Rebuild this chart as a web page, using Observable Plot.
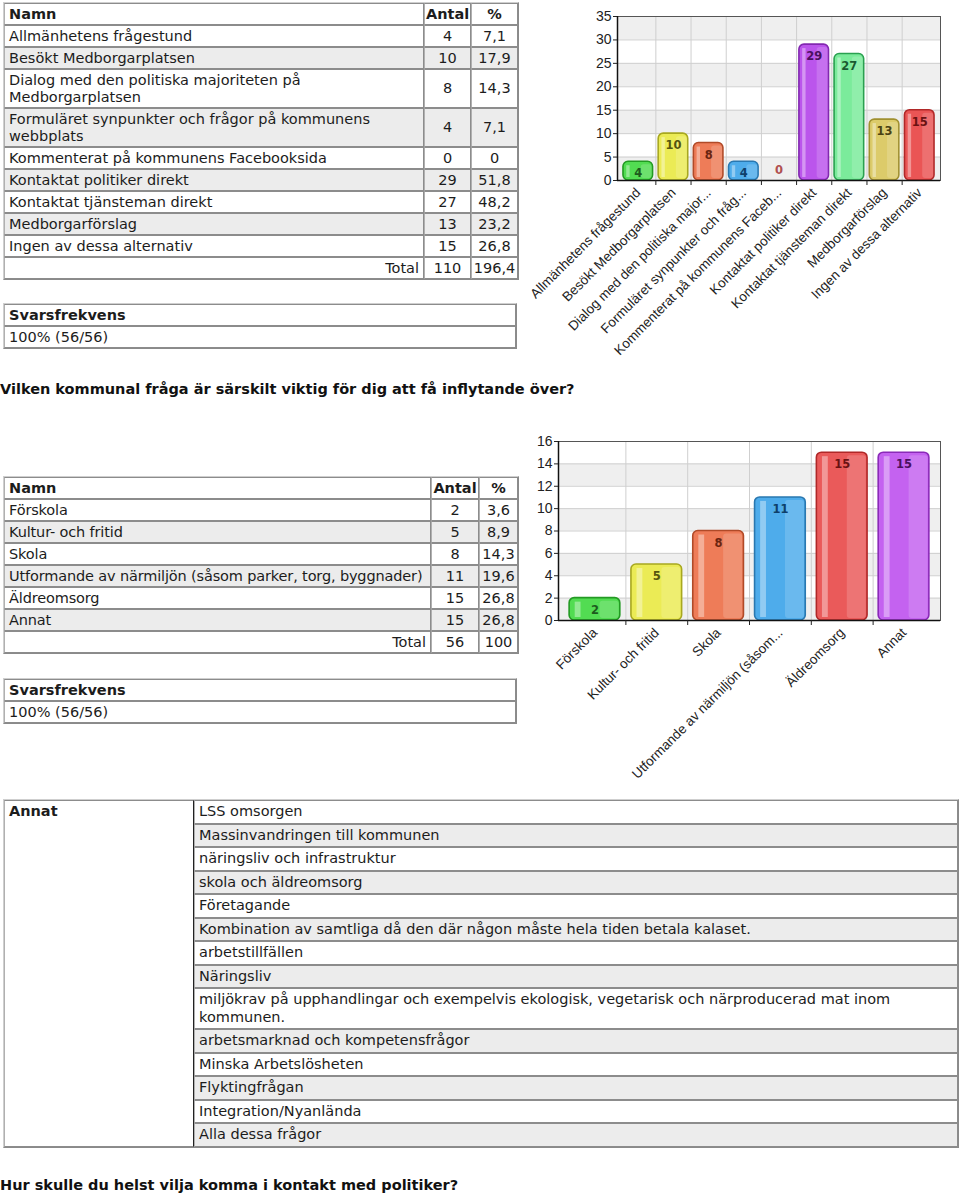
<!DOCTYPE html>
<html><head><meta charset="utf-8">
<script src="https://cdn.jsdelivr.net/npm/d3@7"></script>
<script src="https://cdn.jsdelivr.net/npm/@observablehq/plot@0.6"></script>
<style>
body{margin:0;background:#fff;font-family:"DejaVu Sans",Verdana,sans-serif;font-size:14.5px;color:#1c1c1c;width:960px;height:1196px;position:relative;overflow:hidden;}
.blk{position:absolute;}
table.t{border-collapse:separate;border-spacing:0;table-layout:fixed;border:1px solid;border-color:#cfcfcf #8a8a8a #8a8a8a #cfcfcf;}
table.t td{padding:1.5px 4px;line-height:17px;border:1px solid #8c8c8c;border-left-color:#b0b0b0;white-space:pre;overflow:hidden;}
table.t td.n{text-align:center;padding:1.5px 1px;}
table.t td.r{text-align:right;}
table.t tr.g td{background:#ececec;}
table.q2 td.nm{letter-spacing:-0.15px;}
.b{font-weight:bold;}
.title{font-weight:bold;font-size:14.5px;left:0;white-space:nowrap;color:#111;}
table.an td{line-height:17.5px;padding:2px 4px;}
table.an td.lead{vertical-align:top;border-right:1px solid #222;}
</style>
</head><body>
<div id="t1" class="blk" style="left:3px;top:2px"></div>
<div id="s1" class="blk" style="left:3px;top:303px"></div>
<div id="c1" class="blk" style="left:520px;top:0px"></div>
<div class="blk title" style="top:381px">Vilken kommunal fråga är särskilt viktig för dig att få inflytande över?</div>
<div id="t2" class="blk" style="left:3px;top:476px"></div>
<div id="s2" class="blk" style="left:3px;top:678px"></div>
<div id="c2" class="blk" style="left:520px;top:425px"></div>
<div id="t3" class="blk" style="left:3px;top:799px"></div>
<div class="blk title" style="top:1177px">Hur skulle du helst vilja komma i kontakt med politiker?</div>
<script>
// ---------- DATA ----------
const q1Names = ["Allmänhetens frågestund","Besökt Medborgarplatsen","Dialog med den politiska majoriteten på\nMedborgarplatsen","Formuläret synpunkter och frågor på kommunens\nwebbplats","Kommenterat på kommunens Facebooksida","Kontaktat politiker direkt","Kontaktat tjänsteman direkt","Medborgarförslag","Ingen av dessa alternativ"];
const q1AxisLabels = ["Allmänhetens frågestund","Besökt Medborgarplatsen","Dialog med den politiska major...","Formuläret synpunkter och fråg...","Kommenterat på kommunens Faceb...","Kontaktat politiker direkt","Kontaktat tjänsteman direkt","Medborgarförslag","Ingen av dessa alternativ"];
const q1Counts = [4,10,8,4,0,29,27,13,15];
const q1Pct = ["7,1","17,9","14,3","7,1","0","51,8","48,2","23,2","26,8"];
const q1Total = ["110","196,4"];
const q1YTicks = [0,5,10,15,20,25,30,35];

const q2Names = ["Förskola","Kultur- och fritid","Skola","Utformande av närmiljön (såsom parker, torg, byggnader)","Äldreomsorg","Annat"];
const q2AxisLabels = ["Förskola","Kultur- och fritid","Skola","Utformande av närmiljön (såsom...","Äldreomsorg","Annat"];
const q2Counts = [2,5,8,11,15,15];
const q2Pct = ["3,6","8,9","14,3","19,6","26,8","26,8"];
const q2Total = ["56","100"];
const q2YTicks = [0,2,4,6,8,10,12,14,16];

const responseRate = "100% (56/56)";
const annatAnswers = ["LSS omsorgen","Massinvandringen till kommunen","näringsliv och infrastruktur","skola och äldreomsorg","Företagande","Kombination av samtliga då den där någon måste hela tiden betala kalaset.","arbetstillfällen","Näringsliv","miljökrav på upphandlingar och exempelvis ekologisk, vegetarisk och närproducerad mat inom\nkommunen.","arbetsmarknad och kompetensfrågor","Minska Arbetslösheten","Flyktingfrågan","Integration/Nyanlända","Alla dessa frågor"];

// ---------- STYLES ----------
const pal1 = {
  fill:  ["#52dc52","#ebeb55","#ee7c58","#4eaceb","#cccccc","#bb55ec","#7beb9b","#dccb6a","#ea5555"],
  stroke:["#239a23","#a8a820","#b04a28","#2a78b0","#999999","#8228b0","#2aa050","#a09030","#b02828"],
  text:  ["#1d5a1d","#55550f","#6a2410","#0f3f6a","#b05050","#4a1060","#1a5a30","#4a4212","#6a1212"]
};
const pal2 = {
  fill:  ["#52dc52","#ebeb55","#ee7c58","#4eaceb","#ea5a5a","#c462f0"],
  stroke:["#239a23","#a8a820","#b04a28","#2a78b0","#b02828","#8a2ab8"],
  text:  ["#1d5a1d","#55550f","#6a2410","#0f3f6a","#6a1212","#4a1060"]
};

// ---------- TABLES ----------
function esc(s){return s.replace(/&/g,"&amp;").replace(/</g,"&lt;");}
function freqTable(names, counts, pct, total, widths, cls){
  let h = `<table class="t ${cls}" style="width:${widths[0]+widths[1]+widths[2]}px"><colgroup><col style="width:${widths[0]}px"><col style="width:${widths[1]}px"><col style="width:${widths[2]}px"></colgroup>`;
  h += `<tr><td class="b">Namn</td><td class="n b">Antal</td><td class="n b">%</td></tr>`;
  names.forEach((n,i)=>{
    h += `<tr class="${i%2===1?'g':''}"><td class="nm">${esc(n)}</td><td class="n">${counts[i]}</td><td class="n">${pct[i]}</td></tr>`;
  });
  h += `<tr><td class="r">Total</td><td class="n">${total[0]}</td><td class="n">${total[1]}</td></tr></table>`;
  return h;
}
function rateTable(){
  return `<table class="t" style="width:514px"><tr><td class="b">Svarsfrekvens</td></tr><tr><td>${responseRate}</td></tr></table>`;
}
document.getElementById("t1").innerHTML = freqTable(q1Names,q1Counts,q1Pct,q1Total,[420,47,47],"q1");
document.getElementById("t2").innerHTML = freqTable(q2Names,q2Counts,q2Pct,q2Total,[427,48,39],"q2");
document.getElementById("s1").innerHTML = rateTable();
document.getElementById("s2").innerHTML = rateTable();
let a = `<table class="t an" style="width:954px"><colgroup><col style="width:190px"><col style="width:764px"></colgroup>`;
annatAnswers.forEach((t,i)=>{
  a += `<tr class="${i%2===1?'g':''}">` + (i===0?`<td class="lead b" rowspan="${annatAnswers.length}" style="background:#fff">Annat</td>`:"") + `<td>${esc(t)}</td></tr>`;
});
a += `</table>`;
document.getElementById("t3").innerHTML = a;

// ---------- CHARTS ----------
function barChart({axisLabels, counts, yTicks, pal, width, height, mL, mR, mT, mB, half}){
  const n = counts.length;
  const rows = counts.map((v,i)=>({i, v}));
  const idx = rows.map(d=>d.i);
  const bounds = idx.slice(0,-1).map(i=>i+0.5);
  const bands = [];
  for (let k=0;k<yTicks.length-1;k+=2) bands.push({a:yTicks[k], b:yTicks[k+1]});
  const pad = 0.59;
  const pos = rows.filter(d=>d.v>0);
  return Plot.plot({
    width, height, marginLeft:mL, marginRight:mR, marginTop:mT, marginBottom:mB,
    style:{fontFamily:"'Liberation Sans',Arial,sans-serif", fontSize:"13px", color:"#222", background:"transparent"},
    x:{domain:[-pad, n-1+pad]},
    y:{domain:[yTicks[0], yTicks[yTicks.length-1]]},
    marks:[
      Plot.rect(bands,{y1:"a", y2:"b", fill:"#efefef"}),
      Plot.ruleY(yTicks,{stroke:"#cfcfcf"}),
      Plot.ruleX(bounds,{stroke:"#cfcfcf"}),
      Plot.rect(pos,{x1:d=>d.i-half, x2:d=>d.i+half, y1:0, y2:"v", fill:d=>pal.fill[d.i], stroke:d=>pal.stroke[d.i], strokeWidth:1.6, rx:5}),
      Plot.rect(pos,{x1:d=>d.i+half*0.2, x2:d=>d.i+half*0.95, y1:0, y2:"v", fill:"white", fillOpacity:0.16, insetTop:3, insetBottom:2, rx:3}),
      Plot.rect(pos,{x1:d=>d.i-half*0.78, x2:d=>d.i-half*0.55, y1:0, y2:"v", fill:"white", fillOpacity:0.38, insetTop:4, insetBottom:3}),
      Plot.text(pos,{x:"i", y:"v", text:d=>String(d.v), dy:12, fill:d=>pal.text[d.i], fontWeight:"bold", fontSize:11.5, fontFamily:"'DejaVu Sans',Verdana,sans-serif"}),
      Plot.text(rows.filter(d=>d.v===0),{x:"i", y:"v", text:d=>String(d.v), dy:-10, fill:d=>pal.text[d.i], fontWeight:"bold", fontSize:11.5, fontFamily:"'DejaVu Sans',Verdana,sans-serif"}),
      Plot.frame({stroke:"#555"}),
      Plot.ruleY([yTicks[0]],{stroke:"#111", strokeWidth:1.5}),
      Plot.ruleX([-pad],{stroke:"#111", strokeWidth:1.5}),
      Plot.axisY(yTicks,{tickSize:4, tickPadding:2, tickFormat:d=>String(d), fontSize:14, label:null}),
      Plot.axisX(idx,{tickSize:0, tickPadding:10, tickRotate:-45, tickFormat:i=>axisLabels[i], fontSize:13.5, label:null}),
      Plot.axisX(bounds,{tickSize:5, tickFormat:()=>"", label:null})
    ]
  });
}
document.getElementById("c1").appendChild(barChart({axisLabels:q1AxisLabels, counts:q1Counts, yTicks:q1YTicks, pal:pal1, width:440, height:365, mL:97, mR:20, mT:16, mB:185, half:0.42}));
document.getElementById("c2").appendChild(barChart({axisLabels:q2AxisLabels, counts:q2Counts, yTicks:q2YTicks, pal:pal2, width:440, height:370, mL:38, mR:20, mT:16, mB:175, half:0.41}));
</script>
</body></html>
